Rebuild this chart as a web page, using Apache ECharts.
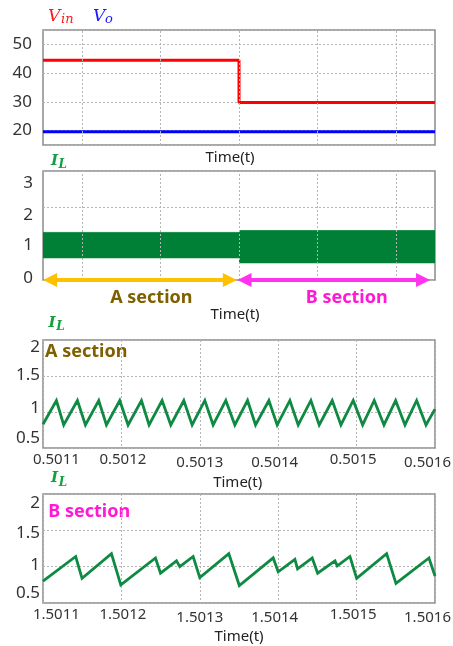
<!DOCTYPE html>
<html><head><meta charset="utf-8">
<script src="https://cdn.jsdelivr.net/npm/echarts@6/dist/echarts.min.js"></script>
<style>html,body{margin:0;padding:0;background:#fff}#c{width:453px;height:646px}</style>
</head><body><div id="c"></div>
<script>
// ---------- Panel 1 : Vin / Vo ----------
const vinTime = [0, 1, 1, 2];
const vinValue = [44.5, 44.5, 29.8, 29.8];
const voTime = [0, 2];
const voValue = [19.6, 19.6];
const p1YTicks = [20, 30, 40, 50];

// ---------- Panel 2 : IL overview (envelope of the ripple band) ----------
const bandATime = [0, 1];
const bandAHigh = [1.31, 1.31];
const bandALow = 0.60;
const bandBTime = [1, 2];
const bandBHigh = [1.36, 1.36];
const bandBLow = 0.46;
const p2YTicks = [0, 1, 2, 3];
const overviewGridTimes = [0.2, 0.6, 1.0, 1.4, 1.8];
const arrowA = [0.036, 0.953];
const arrowB = [1.028, 1.939];

// ---------- Panel 3 : A section zoom ----------
const aTime = [0.5011000, 0.5011171, 0.5011264, 0.5011439, 0.5011541, 0.5011711, 0.5011809, 0.5011979,
  0.5012085, 0.5012256, 0.5012353, 0.5012519, 0.5012630, 0.5012796, 0.5012902, 0.5013064, 0.5013170,
  0.5013332, 0.5013447, 0.5013609, 0.5013711, 0.5013881, 0.5013987, 0.5014149, 0.5014255, 0.5014417,
  0.5014523, 0.5014689, 0.5014800, 0.5014957, 0.5015077, 0.5015225, 0.5015349, 0.5015498, 0.5015617,
  0.5015766, 0.5015885, 0.5016000];
const aCurrent = [0.83, 1.16, 0.82, 1.16, 0.82, 1.16, 0.82, 1.16, 0.82, 1.16, 0.82, 1.16, 0.82, 1.16, 0.82,
  1.16, 0.82, 1.16, 0.82, 1.16, 0.82, 1.16, 0.82, 1.16, 0.82, 1.16, 0.82, 1.16, 0.82, 1.16, 0.82, 1.16, 0.82,
  1.16, 0.82, 1.16, 0.82, 1.04];
const p3XTicks = ['0.5011', '0.5012', '0.5013', '0.5014', '0.5015', '0.5016'];
const zoomYTicks = [0.5, 1, 1.5, 2];

// ---------- Panel 4 : B section zoom ----------
const bTime = [1.5011000, 1.5011417, 1.5011498, 1.5011873, 1.5011992, 1.5012435, 1.5012499, 1.5012703,
  1.5012745, 1.5012915, 1.5013000, 1.5013370, 1.5013504, 1.5013936, 1.5014000, 1.5014213, 1.5014247,
  1.5014434, 1.5014503, 1.5014724, 1.5014753, 1.5014915, 1.5015001, 1.5015383, 1.5015502, 1.5015923, 1.5016000];
const bCurrent = [0.80, 1.14, 0.84, 1.18, 0.75, 1.12, 0.91, 1.08, 1.00, 1.14, 0.85, 1.18, 0.74, 1.12, 0.93,
  1.10, 0.97, 1.12, 0.91, 1.08, 1.01, 1.14, 0.84, 1.18, 0.77, 1.12, 0.87];
const p4XTicks = ['1.5011', '1.5012', '1.5013', '1.5014', '1.5015', '1.5016'];

// ---------- styling ----------
const FONT = '"Noto Sans", sans-serif';
const SERIF = '"DejaVu Serif", serif';
const GREEN_LINE = '#0E8A43';
const GREEN_BAND = '#007F37';
const GRID_LINE = {show: true, lineStyle: {color: '#b4b4b4', type: [2, 2], width: 1}};

function yLabels(ticks, shifts, margin) {
  const rich = {};
  ticks.forEach((t, i) => {
    const s = shifts[i];
    rich['y' + i] = {fontSize: 17, color: '#333', fontFamily: FONT,
      padding: s >= 0 ? [2 * s, 0, 0, 0] : [0, 0, -2 * s, 0]};
  });
  return {
    show: true, margin, fontSize: 17, color: '#333', fontFamily: FONT,
    showMinLabel: true, showMaxLabel: true,
    formatter: v => {
      const i = ticks.findIndex(t => Math.abs(t - v) < 1e-9);
      return i < 0 ? '' : '{y' + i + '|' + ticks[i] + '}';
    },
    rich
  };
}
function xLabels(labels, hShift, vShift) {
  const rich = {};
  labels.forEach((l, i) => {
    const h = hShift[i];
    rich['x' + i] = {fontSize: 15, color: '#333', fontFamily: FONT,
      padding: [vShift[i], h < 0 ? -2 * h : 0, 0, h > 0 ? 2 * h : 0]};
  });
  return {
    show: true, margin: 4, fontSize: 15, color: '#333', fontFamily: FONT,
    showMinLabel: true, showMaxLabel: true,
    formatter: (v, i) => '{x' + i + '|' + labels[i] + '}',
    rich
  };
}
const xHShift = [13.4, 1.5, 0, -3.5, -3.5, -7.5];
const xVShift = [0, 0, 3, 3, 0, 3];

function timeName(gap, shiftLeft) {
  return {name: 'Time(t)', nameLocation: 'middle', nameGap: gap,
    nameTextStyle: {fontSize: 15, color: '#222', fontFamily: FONT, padding: [0, 2 * shiftLeft, 0, 0]}};
}
const gridBase = {show: true, borderColor: '#8c8c8c', borderWidth: 1.5, backgroundColor: 'transparent', outerBoundsMode: 'none', containLabel: false};
const hidden = {axisTick: {show: false}, axisLine: {show: false}};

function pairs(xs, ys) { return xs.map((x, i) => [x, ys[i]]); }

const chart = echarts.init(document.getElementById('c'), null, {renderer: 'canvas'});
chart.setOption({
  animation: false,
  backgroundColor: '#fff',
  grid: [
    Object.assign({left: 43, top: 30, width: 392, height: 115}, gridBase),
    Object.assign({left: 43, top: 171, width: 392, height: 109}, gridBase),
    Object.assign({left: 43, top: 340, width: 392, height: 108}, gridBase),
    Object.assign({left: 43, top: 494, width: 392, height: 109}, gridBase)
  ],
  xAxis: [
    Object.assign({type: 'value', gridIndex: 0, min: 0, max: 2, axisLabel: {show: false}, splitLine: {show: false}}, hidden, timeName(5, 9)),
    Object.assign({type: 'value', gridIndex: 1, min: 0, max: 2, axisLabel: {show: false}, splitLine: {show: false}}, hidden, timeName(27.5, 4)),
    Object.assign({type: 'value', gridIndex: 2, min: 0.5011, max: 0.5016, interval: 0.0001,
      axisLabel: xLabels(p3XTicks, xHShift, xVShift), splitLine: GRID_LINE}, hidden, timeName(27, 1.3)),
    Object.assign({type: 'value', gridIndex: 3, min: 1.5011, max: 1.5016, interval: 0.0001,
      axisLabel: xLabels(p4XTicks, xHShift, xVShift), splitLine: GRID_LINE}, hidden, timeName(26, 0))
  ],
  yAxis: [
    Object.assign({type: 'value', gridIndex: 0, min: 15, max: 55, splitNumber: 4,
      axisLabel: yLabels(p1YTicks, [0, 0, 0, 0], 11), splitLine: GRID_LINE}, hidden),
    Object.assign({type: 'value', gridIndex: 1, min: 0, max: 3, interval: 1,
      axisLabel: yLabels(p2YTicks, [-2.3, 1, 7.5, 12.3], 10), splitLine: GRID_LINE}, hidden),
    Object.assign({type: 'value', gridIndex: 2, min: 0.5, max: 2, interval: 0.5,
      axisLabel: yLabels(zoomYTicks, [-10, -3.7, -1, 6.7], 3), splitLine: GRID_LINE}, hidden),
    Object.assign({type: 'value', gridIndex: 3, min: 0.5, max: 2, interval: 0.5,
      axisLabel: yLabels(zoomYTicks, [-10, -1.7, 3.3, 9.3], 3), splitLine: GRID_LINE}, hidden)
  ],
  series: [
    // vertical grid lines for panels 1 and 2
    {type: 'line', xAxisIndex: 0, yAxisIndex: 0, data: [], z: 1, silent: true,
      markLine: {silent: true, symbol: 'none', label: {show: false}, animation: false,
        lineStyle: {color: '#b4b4b4', type: [2, 2], width: 1},
        data: overviewGridTimes.map(v => ({xAxis: v}))}},
    {type: 'line', xAxisIndex: 1, yAxisIndex: 1, data: [], z: 1, silent: true,
      markLine: {silent: true, symbol: 'none', label: {show: false}, animation: false,
        lineStyle: {color: '#b4b4b4', type: [2, 2], width: 1},
        data: overviewGridTimes.map(v => ({xAxis: v}))}},
    // panel 1
    {name: 'Vin', type: 'line', xAxisIndex: 0, yAxisIndex: 0, data: pairs(vinTime, vinValue), z: 3,
      symbol: 'none', lineStyle: {color: '#FF0000', width: 3}},
    {name: 'Vo', type: 'line', xAxisIndex: 0, yAxisIndex: 0, data: pairs(voTime, voValue), z: 3,
      symbol: 'none', lineStyle: {color: '#0000FF', width: 3}},
    // panel 2 band (ripple envelope)
    {name: 'IL A band', type: 'line', xAxisIndex: 1, yAxisIndex: 1, z: 3,
      data: pairs(bandATime, bandAHigh), symbol: 'none',
      lineStyle: {width: 0.8, color: GREEN_BAND}, areaStyle: {color: GREEN_BAND, opacity: 1, origin: bandALow}},
    {name: 'IL B band', type: 'line', xAxisIndex: 1, yAxisIndex: 1, z: 3,
      data: pairs(bandBTime, bandBHigh), symbol: 'none',
      lineStyle: {width: 0.8, color: GREEN_BAND}, areaStyle: {color: GREEN_BAND, opacity: 1, origin: bandBLow}},
    // arrows
    {type: 'line', xAxisIndex: 1, yAxisIndex: 1, data: [], z: 6, clip: false, silent: true,
      markLine: {silent: true, symbol: ['triangle', 'triangle'], symbolSize: 14, label: {show: false}, animation: false,
        lineStyle: {color: '#FFC000', width: 4, type: 'solid'}, itemStyle: {color: '#FFC000'},
        data: [[{coord: [arrowA[0], 0]}, {coord: [arrowA[1], 0]}]]}},
    {type: 'line', xAxisIndex: 1, yAxisIndex: 1, data: [], z: 6, clip: false, silent: true,
      markLine: {silent: true, symbol: ['triangle', 'triangle'], symbolSize: 14, label: {show: false}, animation: false,
        lineStyle: {color: '#FF33EE', width: 4, type: 'solid'}, itemStyle: {color: '#FF33EE'},
        data: [[{coord: [arrowB[0], 0]}, {coord: [arrowB[1], 0]}]]}},
    // panel 3
    {name: 'IL A', type: 'line', xAxisIndex: 2, yAxisIndex: 2, data: pairs(aTime, aCurrent), z: 3,
      symbol: 'none', lineStyle: {color: GREEN_LINE, width: 2.8, join: 'miter'}},
    // panel 4
    {name: 'IL B', type: 'line', xAxisIndex: 3, yAxisIndex: 3, data: pairs(bTime, bCurrent), z: 3,
      symbol: 'none', lineStyle: {color: GREEN_LINE, width: 2.8, join: 'miter'}}
  ],
  graphic: [
    // Vin / Vo legend
    {type: 'text', x: 48, y: 8, style: {text: 'V', font: 'italic 17px ' + SERIF, fill: '#FF1A1A', align: 'left', verticalAlign: 'top'}},
    {type: 'text', x: 61, y: 13.5, style: {text: 'in', font: 'italic 13px ' + SERIF, fill: '#FF1A1A', align: 'left', verticalAlign: 'top'}},
    {type: 'text', x: 93, y: 8, style: {text: 'V', font: 'italic 17px ' + SERIF, fill: '#1A1AFF', align: 'left', verticalAlign: 'top'}},
    {type: 'text', x: 105, y: 13.5, style: {text: 'o', font: 'italic 13px ' + SERIF, fill: '#1A1AFF', align: 'left', verticalAlign: 'top'}},
    // IL labels
    {type: 'text', x: 51, y: 154, style: {text: 'I', font: 'italic bold 15px ' + SERIF, fill: '#12A040', align: 'left', verticalAlign: 'top'}},
    {type: 'text', x: 58.5, y: 158.5, style: {text: 'L', font: 'italic bold 12px ' + SERIF, fill: '#12A040', align: 'left', verticalAlign: 'top'}},
    {type: 'text', x: 48.6, y: 316, style: {text: 'I', font: 'italic bold 15px ' + SERIF, fill: '#12A040', align: 'left', verticalAlign: 'top'}},
    {type: 'text', x: 56.2, y: 321, style: {text: 'L', font: 'italic bold 12px ' + SERIF, fill: '#12A040', align: 'left', verticalAlign: 'top'}},
    {type: 'text', x: 51, y: 471, style: {text: 'I', font: 'italic bold 15px ' + SERIF, fill: '#12A040', align: 'left', verticalAlign: 'top'}},
    {type: 'text', x: 58.8, y: 476.5, style: {text: 'L', font: 'italic bold 12px ' + SERIF, fill: '#12A040', align: 'left', verticalAlign: 'top'}},
    // section captions
    {type: 'text', x: 151.3, y: 298.3, style: {text: 'A section', font: 'bold 18px ' + FONT, fill: '#7F6000', align: 'center', verticalAlign: 'middle'}},
    {type: 'text', x: 346.7, y: 298.3, style: {text: 'B section', font: 'bold 18px ' + FONT, fill: '#FF19D4', align: 'center', verticalAlign: 'middle'}},
    {type: 'text', x: 86.2, y: 351.7, style: {text: 'A section', font: 'bold 18px ' + FONT, fill: '#7F6000', align: 'center', verticalAlign: 'middle'}},
    {type: 'text', x: 89.2, y: 511.7, style: {text: 'B section', font: 'bold 18px ' + FONT, fill: '#FF19D4', align: 'center', verticalAlign: 'middle'}}
  ]
});
</script>
</body></html>
